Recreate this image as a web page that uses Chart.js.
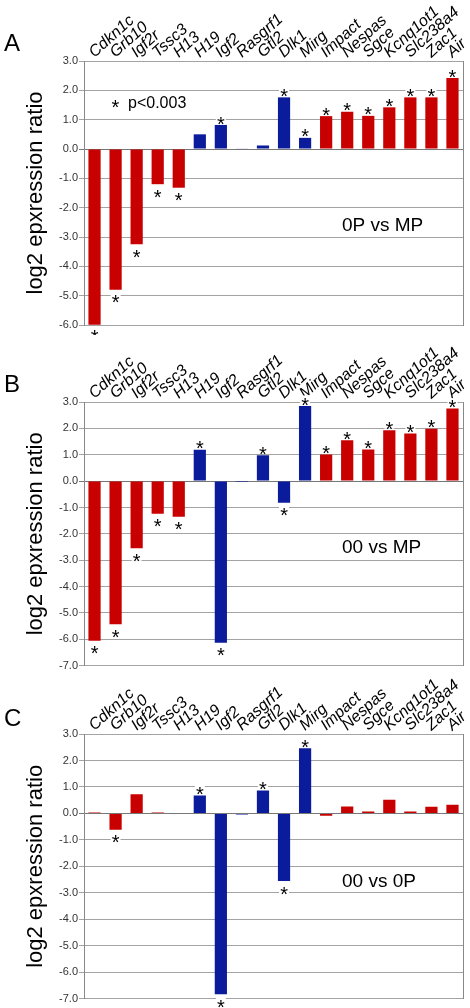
<!DOCTYPE html>
<html><head><meta charset="utf-8">
<script src="https://cdn.jsdelivr.net/npm/chart.js@4/dist/chart.umd.min.js"></script>
<style>
html,body{margin:0;padding:0;background:#fff;}
#wrap{position:relative;width:470px;height:1008px;overflow:hidden;background:#fff;}
canvas{position:absolute;left:0;}
</style></head><body>
<div id="wrap">
<canvas id="cA" width="470" height="335" style="top:0px"></canvas>
<canvas id="cB" width="470" height="335" style="top:335px"></canvas>
<canvas id="cC" width="470" height="338" style="top:670px"></canvas>
</div>
<script>
const genes = ['Cdkn1c','Grb10','Igf2r','Tssc3','H13','H19','Igf2','Rasgrf1','Gtl2','Dlk1','Mirg','Impact','Nespas','Sgce','Kcnq1ot1','Slc238a4','Zac1','Air'];
const paternalGroup = [0,0,0,0,0,1,1,1,1,1,1,0,0,0,0,0,0,0];

const valuesA = [-5.99,-4.80,-3.25,-1.20,-1.32,0.50,0.82,0.02,0.12,1.76,0.38,1.12,1.27,1.13,1.42,1.76,1.76,2.42];
const sigA    = [1,1,1,1,1,0,1,0,0,1,1,1,1,1,1,1,1,1];
const valuesB = [-6.05,-5.43,-2.55,-1.24,-1.35,1.19,-6.13,-0.03,0.98,-0.82,2.85,1.01,1.55,1.20,1.93,1.81,1.99,2.75];
const sigB    = [1,1,1,1,1,1,1,0,1,1,1,1,1,1,1,1,1,1];
const valuesC = [0.03,-0.62,0.72,0.03,0.0,0.68,-6.83,-0.04,0.87,-2.55,2.46,-0.09,0.26,0.07,0.52,0.07,0.25,0.33];
const sigC    = [0,1,0,0,0,1,1,0,1,1,1,0,0,0,0,0,0,0];

const yTitle = 'log2 epxression ratio';
const FAM = '"Liberation Sans", Arial, Helvetica, sans-serif';
const RED = '#c80000', BLUE = '#0a1c9c';

const annot = {
  id: 'annot',
  afterDatasetsDraw(chart, args, o) {
    const ctx = chart.ctx;
    const meta = chart.getDatasetMeta(0);
    const xs = chart.scales.x;
    const top = chart.chartArea.top;
    ctx.save();
    // rotated category labels on the top axis
    ctx.fillStyle = '#000';
    ctx.font = 'italic 16px ' + FAM;
    ctx.textAlign = 'left';
    ctx.textBaseline = 'alphabetic';
    chart.data.labels.forEach((lab, i) => {
      const x = xs.getPixelForTick(i);
      ctx.save();
      ctx.translate(x, top - 3);
      ctx.rotate(-42 * Math.PI / 180);
      ctx.fillText(lab, 0, 0);
      ctx.restore();
    });
    // significance stars
    ctx.textAlign = 'center';
    ctx.font = '20px ' + FAM;
    o.sig.forEach((s, i) => {
      if (!s) return;
      const el = meta.data[i];
      const v = o.values[i];
      const cy = v >= 0 ? el.y - 6 : el.y + 8;
      ctx.fillStyle = '#fff';
      ctx.fillRect(el.x - 5, cy - 4.5, 10, 9);
      ctx.fillStyle = '#000';
      ctx.fillText('*', el.x, cy + 11.6);
    });
    // comparison label
    ctx.textAlign = 'left';
    ctx.font = '19px ' + FAM;
    ctx.fillStyle = '#000';
    ctx.fillText(o.comp, 342, o.compY);
    // panel letter
    ctx.font = '24px ' + FAM;
    ctx.fillText(o.letter, 4, o.letterY);
    if (o.legend) {
      ctx.textAlign = 'center';
      ctx.font = '20px ' + FAM;
      ctx.fillText('*', 115.5, 102 + 11.6);
      ctx.textAlign = 'left';
      ctx.font = '16px ' + FAM;
      ctx.fillText('p<0.003', 128, 108.3);
    }
    ctx.restore();
  }
};

function makeChart(id, values, sig, yMin, xH, padB, comp, compY, letter, letterY, legend) {
  return new Chart(document.getElementById(id), {
    type: 'bar',
    data: {
      labels: genes,
      datasets: [{
        data: values,
        backgroundColor: paternalGroup.map(p => p ? BLUE : RED),
        borderWidth: 0,
        barPercentage: 0.58,
        categoryPercentage: 1.0
      }]
    },
    options: {
      responsive: false,
      animation: false,
      devicePixelRatio: 1,
      layout: { padding: { left: 0, right: 7, top: 0, bottom: padB } },
      plugins: {
        legend: { display: false },
        tooltip: { enabled: false },
        annot: { values, sig, comp, compY, letter, letterY, legend }
      },
      scales: {
        x: {
          position: 'top',
          grid: { display: false, drawTicks: false },
          border: { display: false },
          ticks: { display: false, autoSkip: false },
          afterFit(s) { s.height = xH; s.paddingLeft = 0; s.paddingRight = 0; }
        },
        y: {
          min: yMin, max: 3,
          ticks: {
            stepSize: 1, padding: 1, color: '#333',
            font: { family: FAM, size: 11 },
            callback: v => Number(v).toFixed(1)
          },
          grid: {
            color: c => (c.tick && c.tick.value === 0) ? '#777' : '#a3a3a3',
            tickLength: 5, drawTicks: true
          },
          border: { color: '#888' },
          title: {
            display: true, text: yTitle, color: '#000',
            font: { family: FAM, size: 22 },
            padding: { top: 23, bottom: 0 }
          },
          afterFit(s) { s.width = 84; s.paddingTop = 0; s.paddingBottom = 0; }
        },
        y2: {
          position: 'right', display: true,
          ticks: { display: false },
          grid: { display: false, drawTicks: false },
          border: { display: true, color: '#888' },
          afterFit(s) { s.width = 0; s.paddingTop = 0; s.paddingBottom = 0; }
        }
      }
    },
    plugins: [annot]
  });
}

makeChart('cA', valuesA, sigA, -6, 61, 10, '0P vs MP', 230.7, 'A', 50.7, true);
makeChart('cB', valuesB, sigB, -7, 67, 4.3, '00 vs MP', 218.3, 'B', 57, false);
makeChart('cC', valuesC, sigC, -7, 64, 9.3, '00 vs 0P', 216.7, 'C', 56, false);
</script>
</body></html>
